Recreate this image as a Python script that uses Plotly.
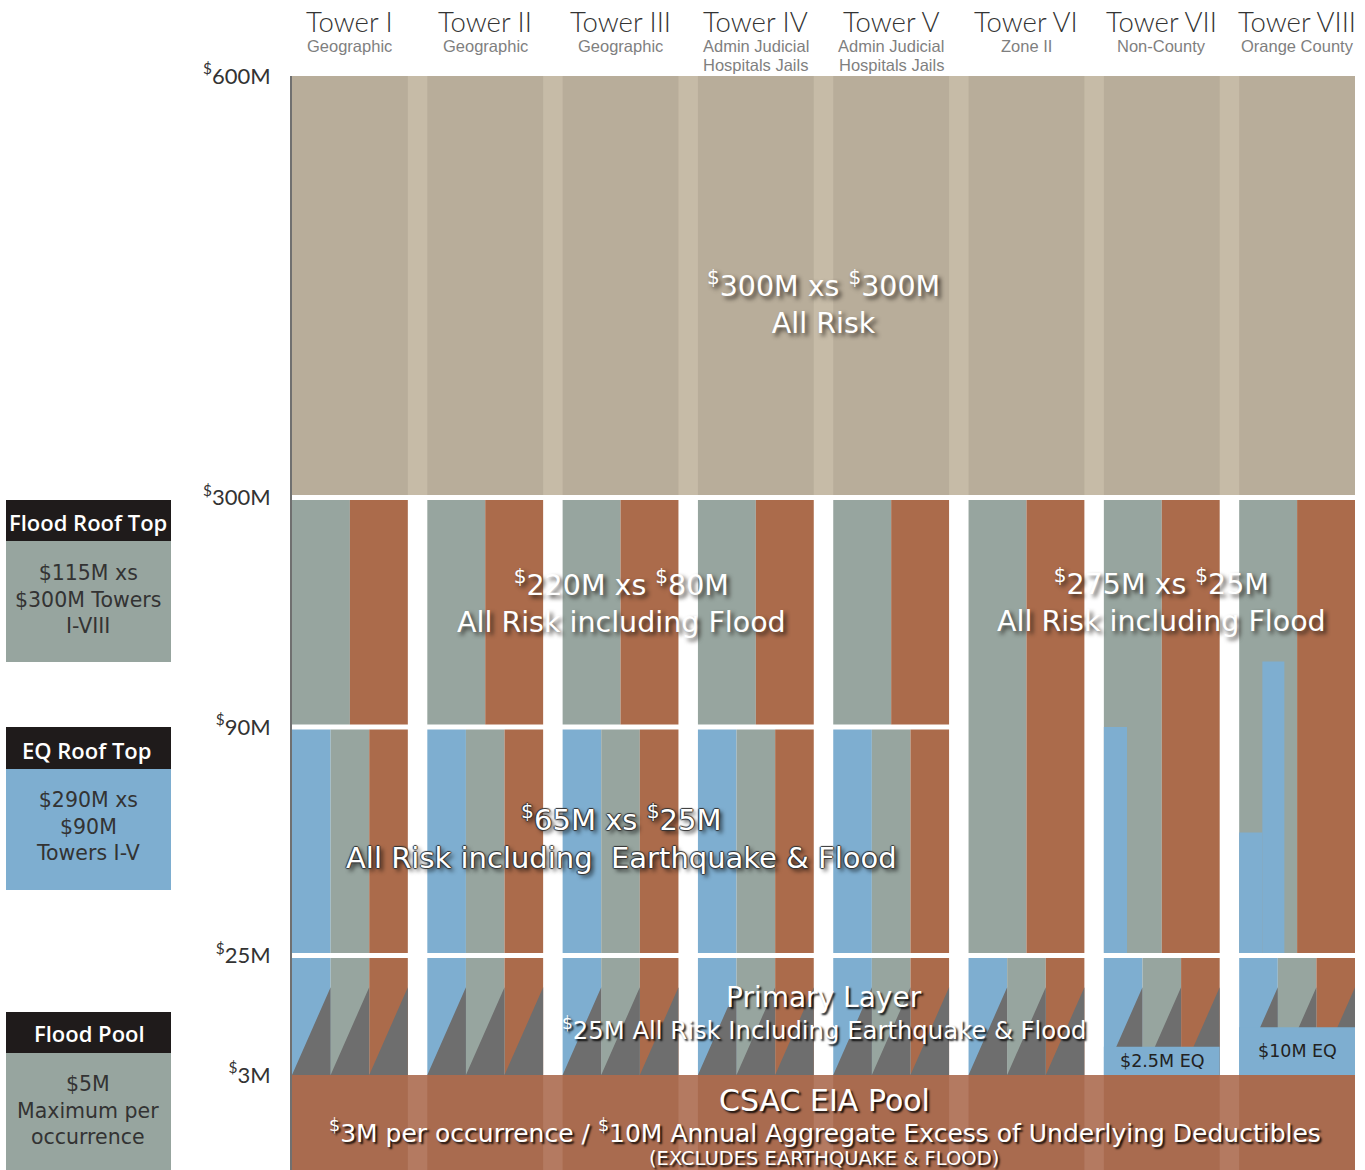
import numpy as np
import plotly.graph_objects as go

# ---------------- data ----------------
TOWERS = ["Tower I", "Tower II", "Tower III", "Tower IV", "Tower V",
          "Tower VI", "Tower VII", "Tower VIII"]
TOWER_GROUPS = ["Geographic", "Geographic", "Geographic",
                "Admin Judicial<br>Hospitals Jails", "Admin Judicial<br>Hospitals Jails",
                "Zone II", "Non-County", "Orange County"]

TICK_VALUES_M = [3, 25, 90, 300, 600]
TICK_TEXT = ["<sup>$</sup>3M", "<sup>$</sup>25M", "<sup>$</sup>90M",
             "<sup>$</sup>300M", "<sup>$</sup>600M"]

POOL_LAYER_M = [0, 3]          # CSAC EIA Pool
PRIMARY_LAYER_M = [3, 25]      # $25M primary
EQ_LAYER_M = [25, 90]          # $65M xs $25M
EQ_LAYER_TOWERS = [0, 1, 2, 3, 4]
FLOOD_LAYER_M = [90, 300]      # $220M xs $80M (drawn from the $90M line)
FLOOD_LAYER_TOWERS = [0, 1, 2, 3, 4]
UPPER_LAYER_M = [25, 300]      # $275M xs $25M
UPPER_LAYER_TOWERS = [5, 6, 7]
TOP_LAYER_M = [300, 600]       # $300M xs $300M

# earthquake sub-limits inside towers VII & VIII (fraction of tower width)
EQ_SUB_TOWER = [6, 7, 7]
EQ_SUB_X0 = [0.0, 0.0, 0.2]
EQ_SUB_X1 = [0.2, 0.2, 0.39]
EQ_SUB_TOP_M = [90, 60, 150]

# EQ deductible boxes
EQ_DED_TOWER = [6, 7]
EQ_DED_TOP_M = [8.2, 11.8]
EQ_DED_TEXT = ["$2.5M EQ", "$10M EQ"]

# schematic (non-linear) vertical scale: $M boundary -> display units
SCALE_M = [0, 3, 25, 90, 300, 600]
SCALE_U = [0, 95, 214.5, 443, 672.5, 1094]


def ypos(m):
    return float(np.interp(m, SCALE_M, SCALE_U))


# ---------------- style ----------------
C_TOP = "#b8ad9a"
C_TOP_GAP = "#c6bba7"
C_GRAY = "#97a59f"
C_RUST = "#ab6b4b"
C_BLUE = "#7eaed0"
C_DARK = "#6e6e6e"
C_POOL = "#a96b4f"
C_POOL_GAP = "#b47a61"
C_HEAD = "#1f1b1b"

W = 0.856          # tower width (pitch = 1)
GAP = 5            # white gap between layers (display units)
TRI_FRAC = 0.75
XMAX = 7 + W

GEO = "'DejaVu Sans', Verdana, sans-serif"
THIN = "Lato, 'Noto Sans', sans-serif"
HUM = "'Open Sans', 'Noto Sans', sans-serif"
ARIAL = "'Liberation Sans', Arial, sans-serif"

PLOT_L, PLOT_R, PLOT_T, PLOT_B = 292, 1355, 76, 1170
FIG_W, FIG_H = 1365, 1170


def Y(px):  # layout pixel row -> y display units (for text placement)
    return PLOT_B - px


def PX(px):
    return (px - PLOT_L) / (PLOT_R - PLOT_L)


def PY(py):
    return (PLOT_B - py) / (PLOT_B - PLOT_T)


fig = go.Figure()


def add_rects(x0s, x1s, y0s, y1s, colors):
    fig.add_trace(go.Bar(
        x=[(a + b) / 2 for a, b in zip(x0s, x1s)],
        width=[b - a for a, b in zip(x0s, x1s)],
        base=y0s,
        y=[b - a for a, b in zip(y0s, y1s)],
        marker=dict(color=colors, line=dict(width=0)),
        hoverinfo="skip", showlegend=False))


def split(towers, parts, colors, m0, m1, top_gap=True, bot_gap=True):
    x0s, x1s, y0s, y1s, cs = [], [], [], [], []
    y0 = ypos(m0) + (GAP / 2 if bot_gap else 0)
    y1 = ypos(m1) - (GAP / 2 if top_gap else 0)
    for t in towers:
        for k in range(parts):
            x0s.append(t + k * W / parts)
            x1s.append(t + (k + 1) * W / parts)
            y0s.append(y0)
            y1s.append(y1)
            cs.append(colors[k])
    add_rects(x0s, x1s, y0s, y1s, cs)


n = len(TOWERS)
ALL = list(range(n))

# top band
add_rects([0], [XMAX], [ypos(TOP_LAYER_M[0]) + GAP / 2], [ypos(TOP_LAYER_M[1])], [C_TOP_GAP])
split(ALL, 1, [C_TOP], TOP_LAYER_M[0], TOP_LAYER_M[1], top_gap=False)

# flood excess (towers I-V)
split(FLOOD_LAYER_TOWERS, 2, [C_GRAY, C_RUST], FLOOD_LAYER_M[0], FLOOD_LAYER_M[1])
# EQ excess (towers I-V)
split(EQ_LAYER_TOWERS, 3, [C_BLUE, C_GRAY, C_RUST], EQ_LAYER_M[0], EQ_LAYER_M[1])
# upper all-risk (towers VI-VIII)
split(UPPER_LAYER_TOWERS, 2, [C_GRAY, C_RUST], UPPER_LAYER_M[0], UPPER_LAYER_M[1])

# EQ sub-limits
add_rects([t + a * W for t, a in zip(EQ_SUB_TOWER, EQ_SUB_X0)],
          [t + b * W for t, b in zip(EQ_SUB_TOWER, EQ_SUB_X1)],
          [ypos(UPPER_LAYER_M[0]) + GAP / 2] * len(EQ_SUB_TOWER),
          [ypos(m) for m in EQ_SUB_TOP_M],
          [C_BLUE] * len(EQ_SUB_TOWER))

# primary layer
split(ALL, 3, [C_BLUE, C_GRAY, C_RUST], PRIMARY_LAYER_M[0], PRIMARY_LAYER_M[1], bot_gap=False)

# pool
add_rects([0], [XMAX], [ypos(POOL_LAYER_M[0])], [ypos(POOL_LAYER_M[1])], [C_POOL_GAP])
split(ALL, 1, [C_POOL], POOL_LAYER_M[0], POOL_LAYER_M[1], top_gap=False, bot_gap=False)

# primary triangles (scatter polygons)
yb = ypos(PRIMARY_LAYER_M[0])
yt = ypos(PRIMARY_LAYER_M[1]) - GAP / 2
tx, ty = [], []
for t in ALL:
    for k in range(3):
        a = t + k * W / 3
        b = t + (k + 1) * W / 3
        tx += [a, b, b, a, None]
        ty += [yb, yb, yb + TRI_FRAC * (yt - yb), yb, None]
fig.add_trace(go.Scatter(x=tx, y=ty, mode="lines", line=dict(width=0, color=C_DARK),
                         fill="toself", fillcolor=C_DARK, hoverinfo="skip", showlegend=False))

# EQ deductible boxes (polygons so they sit above the triangles)
bx, by = [], []
for t, m in zip(EQ_DED_TOWER, EQ_DED_TOP_M):
    y0, y1 = ypos(PRIMARY_LAYER_M[0]), ypos(m)
    bx += [t, t + W, t + W, t, t, None]
    by += [y0, y0, y1, y1, y0, None]
fig.add_trace(go.Scatter(x=bx, y=by, mode="lines", line=dict(width=0, color=C_BLUE),
                         fill="toself", fillcolor=C_BLUE, hoverinfo="skip", showlegend=False))

# ---------------- annotations ----------------
ann = []
SH_SOFT = "3px 3px 4px rgba(30,25,20,0.8)"
SH_HARD = ("-1px 0 1px #333, 1px 0 1px #333, 0 -1px 1px #333, 0 1px 1px #333, "
           "3px 3px 4px rgba(0,0,0,0.75)")
SH_BLACK = "2px 2px 2px rgba(0,0,0,0.9)"

for i, (tn, tg) in enumerate(zip(TOWERS, TOWER_GROUPS)):
    cx = i + W / 2
    ann.append(dict(x=cx, y=PY(22), xref="x", yref="paper", text=tn, showarrow=False,
                    font=dict(family=THIN, size=27.5, color="#333333", weight=300),
                    xanchor="center", yanchor="middle"))
    for j, line in enumerate(tg.split("<br>")):
        ann.append(dict(x=cx, y=PY(46 + 19 * j), xref="x", yref="paper", text=line,
                        showarrow=False,
                        font=dict(family=ARIAL, size=16.5, color="#7f7f7f"),
                        xanchor="center", yanchor="middle"))


def label(x_px, y_px, text, size, family, shadow, color="white", weight=None):
    f = dict(family=family, size=size, color=color, shadow=shadow)
    if weight:
        f["weight"] = weight
    ann.append(dict(x=PX(x_px), y=Y(y_px), xref="paper", yref="y", text=text,
                    showarrow=False, font=f, xanchor="center", yanchor="middle"))


label(823, 302, "<sup>$</sup>300M xs <sup>$</sup>300M<br>All Risk", 28.5, GEO, SH_SOFT)
label(621, 601, "<sup>$</sup>220M xs <sup>$</sup>80M<br>All Risk including Flood", 28.5, GEO, SH_SOFT)
label(1161, 600, "<sup>$</sup>275M xs <sup>$</sup>25M<br>All Risk including Flood", 28.5, GEO, SH_SOFT)
label(621, 837, "<sup>$</sup>65M xs <sup>$</sup>25M<br>All Risk including  Earthquake &amp; Flood",
      29, GEO, SH_HARD)
label(824, 997, "Primary Layer", 28, GEO, SH_BLACK)
label(824, 1029, "<sup>$</sup>25M All Risk Including Earthquake &amp; Flood", 24.3, GEO, SH_BLACK)
label(824, 1100, "CSAC EIA Pool", 30, GEO, SH_BLACK)
label(825, 1131, "<sup>$</sup>3M per occurrence / <sup>$</sup>10M Annual Aggregate Excess of Underlying Deductibles",
      25, GEO, SH_BLACK)
label(824, 1158, "(EXCLUDES EARTHQUAKE &amp; FLOOD)", 19.5, GEO, SH_BLACK)

for t, txt, m in zip(EQ_DED_TOWER, EQ_DED_TEXT, EQ_DED_TOP_M):
    ann.append(dict(x=t + W / 2, y=(ypos(PRIMARY_LAYER_M[0]) + ypos(m)) / 2, xref="x", yref="y",
                    text=txt, showarrow=False,
                    font=dict(family=GEO, size=17.5, color="#222222"),
                    xanchor="center", yanchor="middle"))

# left side boxes
shapes = []
BOXES = [
    ("Flood Roof Top", "$115M xs<br>$300M Towers<br>I-VIII", C_GRAY, 500, 541, 662, 88, 522, 599),
    ("EQ Roof Top", "$290M xs<br>$90M<br>Towers I-V", C_BLUE, 727, 769, 890, 86, 750, 826),
    ("Flood Pool", "$5M<br>Maximum per<br>occurrence", C_GRAY, 1012, 1053, 1175, 89, 1033, 1110),
]
for head, body, col, y0, y1, y2, cx, hy, byy in BOXES:
    shapes.append(dict(type="rect", xref="paper", yref="paper", x0=PX(6), x1=PX(171),
                       y0=PY(y1), y1=PY(y0), fillcolor=C_HEAD, line=dict(width=0), layer="above"))
    shapes.append(dict(type="rect", xref="paper", yref="paper", x0=PX(6), x1=PX(171),
                       y0=PY(y2), y1=PY(y1), fillcolor=col, line=dict(width=0), layer="above"))
    ann.append(dict(x=PX(cx), y=PY(hy), xref="paper", yref="paper", text=head, showarrow=False,
                    font=dict(family=HUM, size=22, color="white", weight=600),
                    xanchor="center", yanchor="middle"))
    ann.append(dict(x=PX(88), y=PY(byy), xref="paper", yref="paper", text=body, showarrow=False,
                    font=dict(family=GEO, size=20.5, color="#333333"),
                    xanchor="center", yanchor="middle"))

fig.update_layout(
    width=FIG_W, height=FIG_H,
    margin=dict(l=PLOT_L, r=FIG_W - PLOT_R, t=PLOT_T, b=FIG_H - PLOT_B, pad=0),
    paper_bgcolor="white", plot_bgcolor="white",
    barmode="overlay", showlegend=False,
    xaxis=dict(range=[0, XMAX], visible=False, fixedrange=True),
    yaxis=dict(range=[0, ypos(600)], tickvals=[ypos(v) for v in TICK_VALUES_M],
               ticktext=TICK_TEXT, showgrid=False, zeroline=False,
               showline=True, linecolor="#707070", linewidth=2, ticks="",
               ticklabelstandoff=15,
               tickfont=dict(family=THIN, size=22, color="#333333"), fixedrange=True),
    annotations=ann, shapes=shapes,
)

fig.write_html("out.html", config={"displayModeBar": False},
               post_script="document.body.style.margin='0';")
